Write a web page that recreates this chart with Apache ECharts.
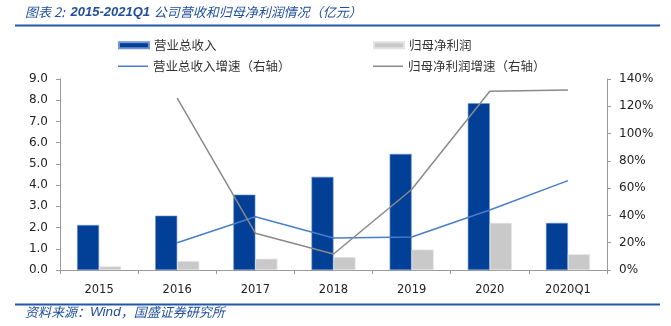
<!DOCTYPE html>
<html><head><meta charset="utf-8">
<script src="https://cdn.jsdelivr.net/npm/echarts@6/dist/echarts.min.js"></script>
<style>html,body{margin:0;padding:0;background:#fff}#c{width:671px;height:326px}</style>
</head><body><div id="c"></div>
<script>
const categories = ['2015','2016','2017','2018','2019','2020','2020Q1'];
const revenue = [2.12, 2.56, 3.55, 4.39, 5.47, 7.86, 2.22];
const netProfit = [0.17, 0.42, 0.53, 0.61, 0.96, 2.22, 0.74];
const revenueGrowth = [null, 20, 39, 23.5, 24.2, 44, 65.5];
const profitGrowth = [null, 126, 27, 11.7, 59, 131, 132];
const leftTicks = {min: 0, max: 9, interval: 1};
const rightTicks = {min: 0, max: 140, interval: 20};

const NAVY = '#023F96', GREY = '#C9C9C9', LBLUE = '#4A7DCB', DGREY = '#8A8A8A', TBLUE = '#1F4E9E';
const cjk = '"Noto Sans CJK SC", sans-serif';
const tickFont = {fontFamily: '"DejaVu Sans", Verdana, sans-serif', fontSize: 11, color: '#222'};
const axisLine = {show: true, lineStyle: {color: '#9a9a9a', width: 1}};

function legendBox(name, left, top, h){
  return {data: [name], left: left, top: top, itemWidth: 30, itemHeight: h, icon: 'rect', itemGap: 0,
    textStyle: {fontFamily: cjk, fontSize: 12.5, color: '#333'}, padding: 0, selectedMode: false};
}

const chart = echarts.init(document.getElementById('c'));
chart.setOption({
  animation: false,
  backgroundColor: '#fff',
  graphic: [
    {type: 'text', left: 25, top: 6, style: {
      text: '{a|图表 2:  }{b|2015-2021Q1 }{a|公司营收和归母净利润情况（亿元）}',
      rich: {
        a: {fontFamily: cjk, fontStyle: 'italic', fontSize: 13, fill: TBLUE},
        b: {fontFamily: '"Liberation Sans", Arial, sans-serif', fontStyle: 'italic', fontWeight: 'bold', fontSize: 13, fill: TBLUE}
      }}},
    {type: 'line', shape: {x1: 15, y1: 25.5, x2: 660, y2: 25.5}, style: {stroke: '#2456A8', lineWidth: 2}},
    {type: 'line', shape: {x1: 15, y1: 304.5, x2: 660, y2: 304.5}, style: {stroke: '#2456A8', lineWidth: 2}},
    {type: 'text', left: 25, top: 305, style: {
      text: '{a|资料来源：}{b|Wind}{a|，国盛证券研究所}',
      rich: {
        a: {fontFamily: cjk, fontStyle: 'italic', fontSize: 13, fill: TBLUE},
        b: {fontFamily: '"Liberation Sans", Arial, sans-serif', fontStyle: 'italic', fontSize: 13.5, fill: TBLUE}
      }}}
  ],
  legend: [
    legendBox('营业总收入', 118, 39, 6),
    legendBox('归母净利润', 373, 39, 6),
    legendBox('营业总收入增速（右轴）', 118, 60, 1.5),
    legendBox('归母净利润增速（右轴）', 373, 60, 1.5)
  ],
  grid: {left: 60, right: 64, top: 79, bottom: 56},
  xAxis: {
    type: 'category', data: categories,
    axisLine: axisLine,
    axisTick: {show: true, length: 4, lineStyle: {color: '#9a9a9a'}},
    axisLabel: Object.assign({margin: 14}, tickFont, {fontSize: 11.5})
  },
  yAxis: [
    {type: 'value', min: leftTicks.min, max: leftTicks.max, interval: leftTicks.interval,
      axisLine: axisLine, axisTick: {show: true, length: 4, lineStyle: {color: '#9a9a9a'}},
      splitLine: {show: false},
      axisLabel: Object.assign({margin: 12, formatter: v => v.toFixed(1)}, tickFont, {fontSize: 12})},
    {type: 'value', min: rightTicks.min, max: rightTicks.max, interval: rightTicks.interval, position: 'right',
      axisLine: axisLine, axisTick: {show: true, length: 4, lineStyle: {color: '#9a9a9a'}},
      splitLine: {show: false},
      axisLabel: Object.assign({margin: 12, formatter: '{value}%'}, tickFont, {fontSize: 12})}
  ],
  series: [
    {name: '营业总收入', type: 'bar', data: revenue, barWidth: 22, barGap: '0%',
      itemStyle: {color: NAVY, borderColor: '#6F94D2', borderWidth: 0.6}},
    {name: '归母净利润', type: 'bar', data: netProfit, barWidth: 22,
      itemStyle: {color: GREY, borderColor: '#e4e4e4', borderWidth: 0.6}},
    {name: '营业总收入增速（右轴）', type: 'line', yAxisIndex: 1, data: revenueGrowth, showSymbol: false,
      lineStyle: {color: LBLUE, width: 1.5}, itemStyle: {color: LBLUE}, z: 5},
    {name: '归母净利润增速（右轴）', type: 'line', yAxisIndex: 1, data: profitGrowth, showSymbol: false,
      lineStyle: {color: DGREY, width: 1.5}, itemStyle: {color: DGREY}, z: 5}
  ]
});
</script></body></html>
